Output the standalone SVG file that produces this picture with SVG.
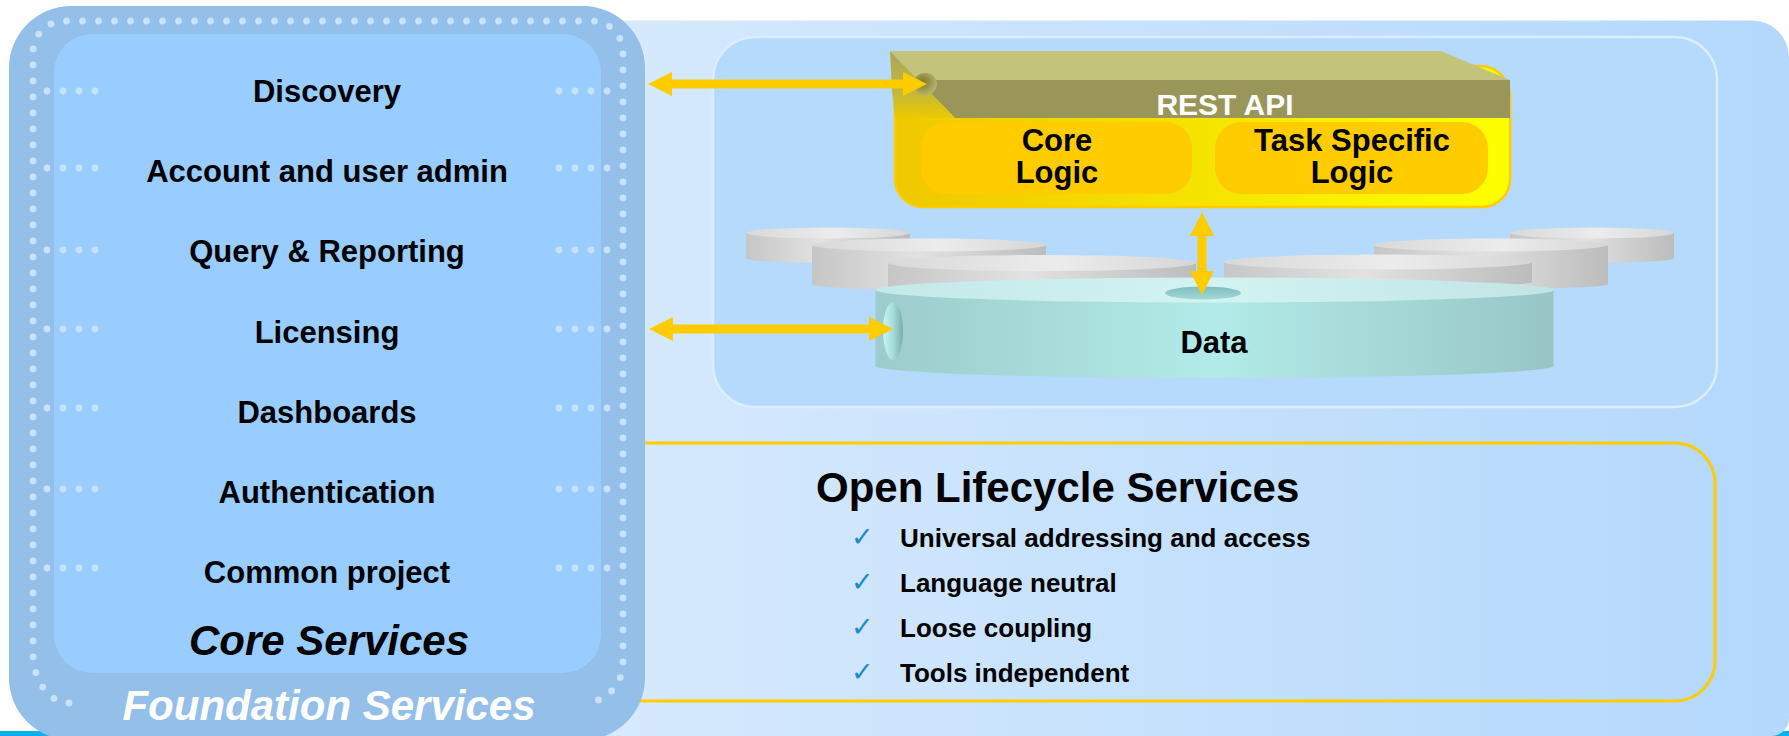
<svg xmlns="http://www.w3.org/2000/svg" width="1789" height="736" viewBox="0 0 1789 736">
  <defs>
    <linearGradient id="bgGrad" x1="560" y1="0" x2="1789" y2="0" gradientUnits="userSpaceOnUse">
      <stop offset="0" stop-color="#d8eafd"/>
      <stop offset="1" stop-color="#b3d8fc"/>
    </linearGradient>
    <linearGradient id="diskSide" x1="0" y1="0" x2="1" y2="0">
      <stop offset="0" stop-color="#c6c6c6"/>
      <stop offset="0.45" stop-color="#e2e2e2"/>
      <stop offset="1" stop-color="#bcbcbc"/>
    </linearGradient>
    <linearGradient id="diskTop" x1="0" y1="0" x2="1" y2="0">
      <stop offset="0" stop-color="#d9d9d9"/>
      <stop offset="0.55" stop-color="#ececec"/>
      <stop offset="1" stop-color="#d6d6d6"/>
    </linearGradient>
    <linearGradient id="dataSide" x1="0" y1="0" x2="1" y2="0">
      <stop offset="0" stop-color="#9ccccb"/>
      <stop offset="0.5" stop-color="#b2ebe9"/>
      <stop offset="1" stop-color="#98c6c6"/>
    </linearGradient>
    <linearGradient id="dataTop" x1="0" y1="0" x2="1" y2="0">
      <stop offset="0" stop-color="#c4e8e8"/>
      <stop offset="0.5" stop-color="#d3f3f3"/>
      <stop offset="1" stop-color="#c2e4e4"/>
    </linearGradient>
    <linearGradient id="holeTop" x1="0" y1="0" x2="0" y2="1">
      <stop offset="0" stop-color="#7fbdbd"/>
      <stop offset="1" stop-color="#a6d8d8"/>
    </linearGradient>
    <linearGradient id="holeSide" x1="0" y1="0" x2="1" y2="0">
      <stop offset="0" stop-color="#c8f4f1"/>
      <stop offset="0.5" stop-color="#a6dcda"/>
      <stop offset="1" stop-color="#7aacac"/>
    </linearGradient>
    <linearGradient id="bodyGrad" x1="0" y1="0" x2="1" y2="0">
      <stop offset="0" stop-color="#f0c800"/>
      <stop offset="0.5" stop-color="#f6e400"/>
      <stop offset="1" stop-color="#ffff00"/>
    </linearGradient>
    <linearGradient id="sideFace" x1="0" y1="0" x2="0" y2="1">
      <stop offset="0" stop-color="#a9a75c"/>
      <stop offset="0.6" stop-color="#c2b63c"/>
      <stop offset="1" stop-color="#eaca00"/>
    </linearGradient>
    <radialGradient id="portGrad" cx="0.4" cy="0.4" r="0.6">
      <stop offset="0" stop-color="#7c7a2c"/>
      <stop offset="1" stop-color="#b5b26a"/>
    </radialGradient>
    <marker id="head" viewBox="0 0 24 24" refX="0" refY="12" markerWidth="24" markerHeight="24" markerUnits="userSpaceOnUse" orient="auto-start-reverse">
      <path d="M0,0 L24,12 L0,24 Z" fill="#ffcc00"/>
    </marker>
    <g id="rowDots">
      <circle cx="47" cy="0" r="3.4"/>
      <circle cx="63" cy="0" r="3.4"/>
      <circle cx="79" cy="0" r="3.4"/>
      <circle cx="95" cy="0" r="3.4"/>
      <circle cx="559" cy="0" r="3.4"/>
      <circle cx="575" cy="0" r="3.4"/>
      <circle cx="591" cy="0" r="3.4"/>
      <circle cx="607" cy="0" r="3.4"/>
    </g>
    <style>
      .t { font-family: "Liberation Sans", Arial, sans-serif; font-weight: bold; }
      .core { font-size: 31px; fill: #000; text-anchor: middle; }
      .dots { fill: none; stroke: #c8e2fa; stroke-width: 6.8; stroke-linecap: round; stroke-dasharray: 0 16; }
      .rowdots { fill: #c6e2fc; }
      .bullet { font-size: 26px; fill: #000; }
      .check { font-family: "DejaVu Sans", sans-serif; font-size: 27px; fill: #1c8cc4; }
      .logic { font-size: 31px; fill: #000; text-anchor: middle; }
      .arrow { stroke: #ffcc00; stroke-width: 9; fill: none; marker-start: url(#head); marker-end: url(#head); }
    </style>
  </defs>

  <rect width="1789" height="736" fill="#ffffff"/>
  <!-- thin cyan strip along the bottom edge -->
  <rect x="0" y="731" width="1789" height="5" fill="#0ab0ec"/>

  <!-- large light-blue backdrop -->
  <path d="M560 20.5 H1752 A37 37 0 0 1 1789 57.5 V718 A18 18 0 0 1 1771 736 H560 Z" fill="url(#bgGrad)"/>

  <!-- service area with REST component and data -->
  <g id="service-area">
    <rect x="713" y="37" width="1004" height="370" rx="42" fill="#b6dafc" stroke="#dbeefd" stroke-width="2.5"/>
  </g>

  <!-- grey storage disks -->
  <g id="disks">
    <g id="disk-a">
      <path d="M746 233 V258 A82 5 0 0 0 910 258 V233 Z" fill="url(#diskSide)"/>
      <ellipse cx="828" cy="233" rx="82" ry="5.5" fill="url(#diskTop)"/>
    </g>
    <g id="disk-f">
      <path d="M1510 233 V258 A82 5 0 0 0 1674 258 V233 Z" fill="url(#diskSide)"/>
      <ellipse cx="1592" cy="233" rx="82" ry="5.5" fill="url(#diskTop)"/>
    </g>
    <g id="disk-b">
      <path d="M812 245 V284 A117 6 0 0 0 1046 284 V245 Z" fill="url(#diskSide)"/>
      <ellipse cx="929" cy="245" rx="117" ry="6.5" fill="url(#diskTop)"/>
    </g>
    <g id="disk-e">
      <path d="M1374 245 V284 A117 5 0 0 0 1608 284 V245 Z" fill="url(#diskSide)"/>
      <ellipse cx="1491" cy="245" rx="117" ry="6.5" fill="url(#diskTop)"/>
    </g>
    <g id="disk-c">
      <path d="M888 263 V300 A154 6 0 0 0 1196 300 V263 Z" fill="url(#diskSide)"/>
      <ellipse cx="1042" cy="263" rx="154" ry="8" fill="url(#diskTop)"/>
    </g>
    <g id="disk-d">
      <path d="M1224 262 V282 A154 5 0 0 0 1532 282 V262 Z" fill="url(#diskSide)"/>
      <ellipse cx="1378" cy="262" rx="154" ry="7.5" fill="url(#diskTop)"/>
    </g>
  </g>

  <!-- Data cylinder -->
  <g id="data">
    <path d="M875.5 290 V366 A339 12 0 0 0 1553.5 366 V290 Z" fill="url(#dataSide)"/>
    <ellipse cx="1214.5" cy="290" rx="339" ry="12.5" fill="url(#dataTop)"/>
    <ellipse cx="1203" cy="293" rx="38" ry="6.5" fill="url(#holeTop)"/>
    <ellipse cx="893" cy="331" rx="10" ry="29" fill="url(#holeSide)"/>
    <text class="t" x="1214" y="353" font-size="31" text-anchor="middle" fill="#000">Data</text>
  </g>

  <!-- REST API component -->
  <g id="rest-api">
    <path d="M895 66 H1480 A30 30 0 0 1 1510 96 V179 A28 28 0 0 1 1482 207 H923 A28 28 0 0 1 895 179 Z" fill="url(#bodyGrad)" stroke="#ffcc00" stroke-width="2.5"/>
    <polygon points="890,51 1441,51 1510,80 918,80" fill="#c3c37b"/>
    <polygon points="918,80 1510,80 1510,118 955,118" fill="#9a9659"/>
    <polygon points="890,51 918,80 955,118 895,118 892,90" fill="url(#sideFace)"/>
    <ellipse cx="925" cy="84" rx="12" ry="11" fill="url(#portGrad)"/>
    <text class="t" x="1225" y="115" font-size="30" text-anchor="middle" fill="#ffffff">REST API</text>
    <g id="core-logic">
      <rect x="921" y="122" width="271" height="72" rx="26" fill="#ffcc00"/>
      <text class="t logic" x="1057" y="151">Core</text>
      <text class="t logic" x="1057" y="183">Logic</text>
    </g>
    <g id="task-logic">
      <rect x="1215" y="122" width="273" height="72" rx="26" fill="#ffcc00"/>
      <text class="t logic" x="1352" y="151">Task Specific</text>
      <text class="t logic" x="1352" y="183">Logic</text>
    </g>
  </g>

  <!-- Open Lifecycle Services box -->
  <g id="open-lifecycle">
    <path d="M560 443 H1675 A40 40 0 0 1 1715 483 V661 A40 40 0 0 1 1675 701 H560" fill="none" stroke="#ffcc00" stroke-width="3"/>
    <text class="t" x="816" y="502" font-size="42" fill="#000">Open Lifecycle Services</text>
    <text class="check" x="851" y="546">✓</text>
    <text class="t bullet" x="900" y="547">Universal addressing and access</text>
    <text class="check" x="851" y="591">✓</text>
    <text class="t bullet" x="900" y="592">Language neutral</text>
    <text class="check" x="851" y="636">✓</text>
    <text class="t bullet" x="900" y="637">Loose coupling</text>
    <text class="check" x="851" y="681">✓</text>
    <text class="t bullet" x="900" y="682">Tools independent</text>
  </g>

  <!-- Foundation Services panel -->
  <g id="foundation-services">
    <rect x="9" y="6" width="636" height="734" rx="62" fill="#93bfe9"/>
    <path class="dots" d="M69 703 A36 50 0 0 1 33 653 L33 52 A31 31 0 0 1 64 21 L592 21 A31 31 0 0 1 623 52 L623 663 A40 40 0 0 1 583 703"/>
    <text class="t" x="329" y="720" font-size="42" font-style="italic" text-anchor="middle" fill="#ffffff">Foundation Services</text>
  </g>

  <!-- Core Services panel -->
  <g id="core-services">
    <rect x="54" y="34" width="547" height="639" rx="38" fill="#99ccff"/>
    <g class="rowdots">
      <use href="#rowDots" y="91"/>
      <use href="#rowDots" y="168"/>
      <use href="#rowDots" y="250"/>
      <use href="#rowDots" y="329"/>
      <use href="#rowDots" y="408"/>
      <use href="#rowDots" y="489"/>
      <use href="#rowDots" y="568"/>
    </g>
    <text class="t core" x="327" y="102">Discovery</text>
    <text class="t core" x="327" y="182">Account and user admin</text>
    <text class="t core" x="327" y="262">Query &amp; Reporting</text>
    <text class="t core" x="327" y="343">Licensing</text>
    <text class="t core" x="327" y="423">Dashboards</text>
    <text class="t core" x="327" y="503">Authentication</text>
    <text class="t core" x="327" y="583">Common project</text>
    <text class="t" x="329" y="655" font-size="42" font-style="italic" text-anchor="middle" fill="#000">Core Services</text>
  </g>

  <!-- connectors -->
  <g id="connectors">
    <line class="arrow" x1="672" y1="84" x2="903" y2="84"/>
    <line class="arrow" x1="673" y1="329" x2="869" y2="329"/>
    <line class="arrow" x1="1202" y1="236" x2="1202" y2="271"/>
  </g>
</svg>
